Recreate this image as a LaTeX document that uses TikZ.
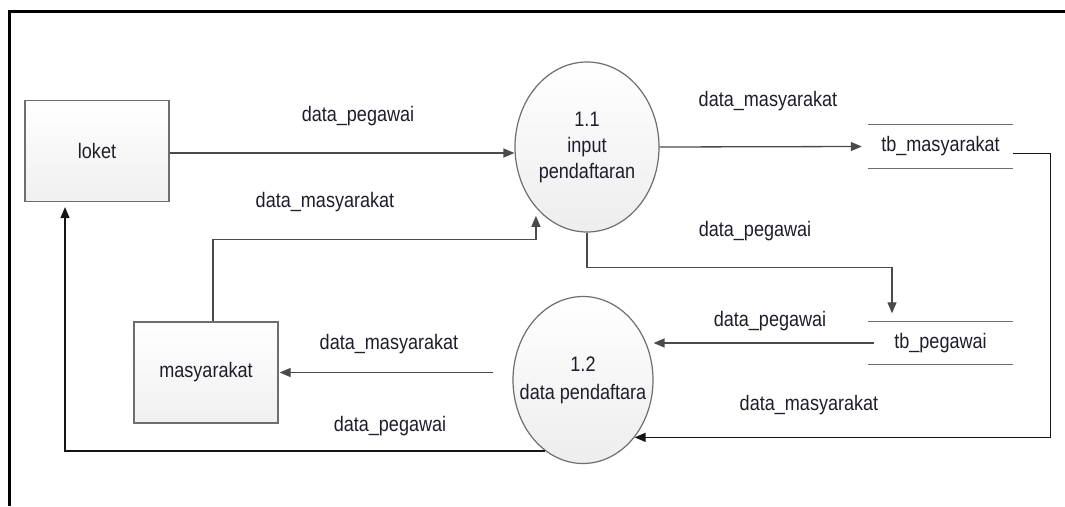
\documentclass[tikz,border=0pt]{standalone}
\usepackage{fontspec}
\setmainfont[FakeStretch=0.86]{Liberation Sans}
\usetikzlibrary{shapes.geometric,arrows.meta}

\definecolor{edge}{HTML}{6E6E6E}
\definecolor{flowc}{HTML}{4A4A4A}
\definecolor{darkflow}{HTML}{151515}
\definecolor{txt}{HTML}{1E1E2A}

\begin{document}
\begin{tikzpicture}[x=1pt,y=-1pt,
  every node/.style={font=\fontsize{21}{26}\selectfont, text=txt},
  entity/.style={draw=edge, line width=1.3pt, top color=white, bottom color=black!6,
                 minimum width=144pt, minimum height=101pt, inner sep=0pt},
  proc/.style={ellipse, draw=edge, line width=1.2pt, top color=white, bottom color=black!7,
               inner sep=0pt},
  proctext/.style={align=center, inner sep=0pt},
  store/.style={minimum width=145pt, minimum height=43pt, inner sep=0pt},
  storeline/.style={draw=edge, line width=1.3pt},
  flow/.style={draw=flowc, line width=1.3pt, -{Triangle[length=11pt,width=9pt]}, color=flowc},
  darkline/.style={flow, draw=darkflow},
  lbl/.style={anchor=base}]

\useasboundingbox (0,0) rectangle (1065,506);

% outer frame (top and left edges)
\draw[line width=3pt, black] (9,506) -- (9,11) -- (1065,11);

% external entities
\node[entity] (loket) at (97,151) {loket};
\node[entity] (masy) at (206,372.5) {masyarakat};

% processes
\node[proc, minimum width=144pt, minimum height=170pt] (p11) at (587,147) {};
\node[proctext] at (p11.center) {1.1\\input\\pendaftaran};
\node[proc, minimum width=140pt, minimum height=167pt] (p12) at (583,380) {};
\node[proctext, font=\fontsize{21}{28}\selectfont] at (p12.center) {1.2\\data pendaftara};

% data stores
\node[store] (tbm) at (940.5,146.5) {tb\_masyarakat};
\draw[storeline] (tbm.north west) -- (tbm.north east) (tbm.south west) -- (tbm.south east);
\node[store] (tbp) at (940.5,343) {tb\_pegawai};
\draw[storeline] (tbp.north west) -- (tbp.north east) (tbp.south west) -- (tbp.south east);

% data flows
\draw[flow] ([yshift=-2pt]loket.east) -- ([yshift=-2pt]loket.east -| p11.west);
\node[lbl] at (358,121) {data\_pegawai};

\draw[flow] (p11.east) -- ([xshift=-6pt]tbm.west);
\node[lbl] at (768,106) {data\_masyarakat};

\draw[darkline] ([yshift=-7pt]tbm.east) -- ++(37,0) |- (p12.-48);
\node[lbl] at (809,410) {data\_masyarakat};

\draw[flow, shorten >=8pt] (p11.south) -- ++(0,35) -| ([xshift=-48.5pt]tbp.north);
\node[lbl] at (755,236) {data\_pegawai};

\draw[flow] ([xshift=6pt]tbp.west) -- (p12.east |- tbp.west);
\node[lbl] at (770,326) {data\_pegawai};

\draw[flow] ([xshift=-19pt]masy.east -| p12.west) -- ([xshift=1pt]masy.east);
\node[lbl] at (389,349) {data\_masyarakat};

\draw[flow, shorten >=8pt] ([xshift=7pt]masy.north) -- ++(0,-82) -| (p11.230);
\node[lbl] at (325,207) {data\_masyarakat};

\draw[darkline, shorten >=5pt] (p12.242) -| ([xshift=-32pt]loket.south);
\node[lbl] at (390,431) {data\_pegawai};
\end{tikzpicture}
\end{document}
